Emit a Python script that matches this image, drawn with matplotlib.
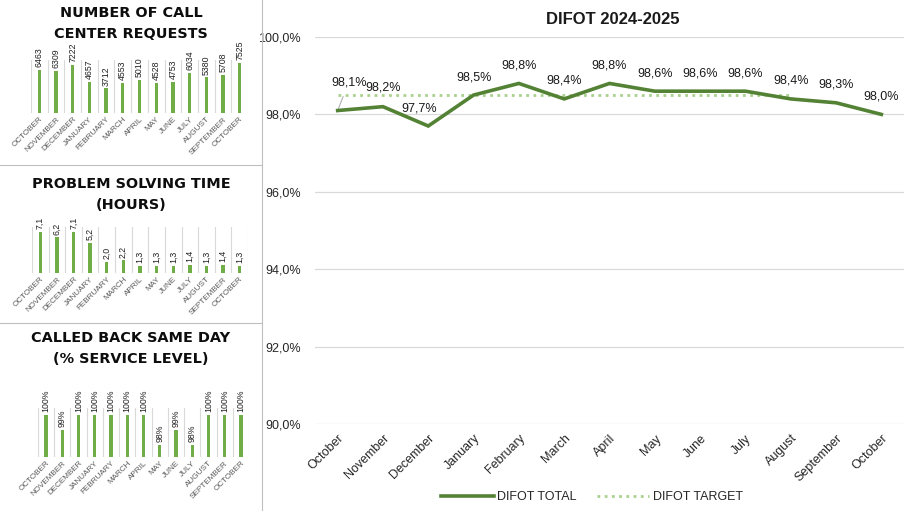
import matplotlib
matplotlib.use("Agg")
import matplotlib.pyplot as plt
import numpy as np

# ---------------- data ----------------
months_upper = ["OCTOBER", "NOVEMBER", "DECEMBER", "JANUARY", "FEBRUARY", "MARCH",
                "APRIL", "MAY", "JUNE", "JULY", "AUGUST", "SEPTEMBER", "OCTOBER"]
months = ["October", "November", "December", "January", "February", "March",
          "April", "May", "June", "July", "August", "September", "October"]
call_requests = [6463, 6309, 7222, 4657, 3712, 4553, 5010, 4528, 4753, 6034, 5380, 5708, 7525]
solving_time = [7.1, 6.2, 7.1, 5.2, 2.0, 2.2, 1.3, 1.3, 1.3, 1.4, 1.3, 1.4, 1.3]
called_back = [100, 99, 100, 100, 100, 100, 100, 98, 99, 98, 100, 100, 100]
difot_total = [98.1, 98.2, 97.7, 98.5, 98.8, 98.4, 98.8, 98.6, 98.6, 98.6, 98.4, 98.3, 98.0]
difot_target = [98.5, 98.5, 98.5, 98.5, 98.5, 98.5, 98.5, 98.5, 98.5, 98.5, 98.5, None, None]

W, H = 916, 511
fig = plt.figure(figsize=(W / 100, H / 100), dpi=100)
fig.patch.set_facecolor("white")

BAR = "#70AD47"
GRID = "#D9D9D9"
TXT = "#595959"
SMALL_FONT = "Liberation Sans"
TITLE_FONT = "DejaVu Sans"


def fx(px):
    return px / W


def fy(py):
    return 1 - py / H


def comma(v, d=1):
    return f"{v:.{d}f}".replace(".", ",")


def small_panel(rect, values, labels, ylim, title_lines, title_y, fmt):
    ax = fig.add_axes(rect)
    x = np.arange(len(values))
    ax.bar(x, values, width=0.2, color=BAR, zorder=3)
    ax.set_xlim(-0.5, len(values) - 0.5)
    ax.set_ylim(*ylim)
    for b in np.arange(-0.5, len(values), 1.0):
        ax.axvline(b, color=GRID, lw=0.8, zorder=1)
    for s in ax.spines.values():
        s.set_visible(False)
    ax.set_yticks([])
    ax.set_xticks(x)
    ax.set_xticklabels(labels, rotation=45, ha="right", va="top",
                       rotation_mode="anchor", color=TXT,
                       family=SMALL_FONT, fontsize=5.9)
    ax.tick_params(axis="x", length=0, pad=2)
    for xi, v in zip(x, values):
        ax.annotate(fmt(v), (xi, v), xytext=(0, 2), textcoords="offset points",
                    rotation=90, ha="center", va="bottom",
                    color="#202020", family=SMALL_FONT, fontsize=6.3,
                    annotation_clip=False)
    for i, t in enumerate(title_lines):
        fig.text(fx(131), fy(title_y[i]), t, ha="center", va="center",
                 family=TITLE_FONT, fontweight="bold", fontsize=10.4,
                 color="#0D0D0D")
    return ax


small_panel([fx(31), fy(113), fx(217), 53 / H], call_requests, months_upper,
            (0, 8000), ["NUMBER OF CALL", "CENTER REQUESTS"],
            [13, 34], lambda v: f"{v}")
small_panel([fx(32), fy(273), fx(216), 46 / H], solving_time, months_upper,
            (0, 8), ["PROBLEM SOLVING TIME", "(HOURS)"], [184, 205],
            lambda v: comma(v))
small_panel([fx(38), fy(457), fx(211), 49 / H], called_back, months_upper,
            (97.2, 100.47), ["CALLED BACK SAME DAY", "(% SERVICE LEVEL)"], [338, 359],
            lambda v: f"{v}%")

# separators
fig.add_artist(plt.Line2D([fx(262), fx(262)], [0, 1], color="#BFBFBF", lw=0.8))
fig.add_artist(plt.Line2D([0, fx(262)], [fy(165), fy(165)], color="#BFBFBF", lw=0.8))
fig.add_artist(plt.Line2D([0, fx(262)], [fy(323), fy(323)], color="#BFBFBF", lw=0.8))

# ---------------- main DIFOT chart ----------------
ax = fig.add_axes([fx(315), fy(424), fx(589), 387 / H])
x = np.arange(len(months))
tgt = np.array([np.nan if v is None else v for v in difot_target], dtype=float)
ax.plot(x, tgt, color="#A9D18E", lw=2.0, ls=(0, (1, 1.6)), label="DIFOT TARGET", zorder=3)
ax.plot(x, difot_total, color="#548235", lw=2.6, label="DIFOT TOTAL", zorder=4,
        solid_joinstyle="miter")
ax.set_xlim(-0.5, len(months) - 0.5)
ax.set_ylim(90, 100)
ax.set_yticks(np.arange(90, 100.1, 2))
ax.set_yticklabels([comma(v) + "%" for v in np.arange(90, 100.1, 2)],
                   fontsize=9, family="Liberation Sans", color="#262626")
ax.yaxis.grid(True, color=GRID, lw=0.9)
ax.set_axisbelow(True)
for s in ax.spines.values():
    s.set_visible(False)
ax.tick_params(axis="y", length=0, pad=10)
ax.set_xticks(x)
ax.set_xticklabels(months, rotation=45, ha="right", va="top", rotation_mode="anchor",
                   fontsize=9, family="Liberation Sans", color="#262626")
ax.tick_params(axis="x", length=0, pad=6)

offsets = [(11, 22), (0, 13), (-9, 12)] + [(0, 12)] * 10
for i, (xi, v) in enumerate(zip(x, difot_total)):
    dx, dy = offsets[i]
    kw = {}
    if i == 0:
        kw["arrowprops"] = dict(arrowstyle="-", color="#A6A6A6", lw=0.7,
                                shrinkA=4, shrinkB=1)
    ax.annotate(comma(v) + "%", (xi, v), xytext=(dx * 0.72, dy * 0.72),
                textcoords="offset points", ha="center", va="bottom",
                fontsize=9, family="Liberation Sans", color="#1A1A1A", **kw)

fig.text(fx(613), fy(20), "DIFOT 2024-2025", ha="center", va="center",
         fontsize=12, fontweight="bold", family="Liberation Sans", color="#1A1A1A")

h, l = ax.get_legend_handles_labels()
leg = fig.legend([h[1], h[0]], [l[1], l[0]], loc="center", bbox_to_anchor=(fx(592), fy(497)),
                 ncol=2, frameon=False, prop={"family": "Liberation Sans", "size": 9},
                 handlelength=4.2, columnspacing=1.6, handletextpad=0.3)
for t in leg.get_texts():
    t.set_color("#262626")

fig.savefig("out.png", dpi=100, facecolor="white")
